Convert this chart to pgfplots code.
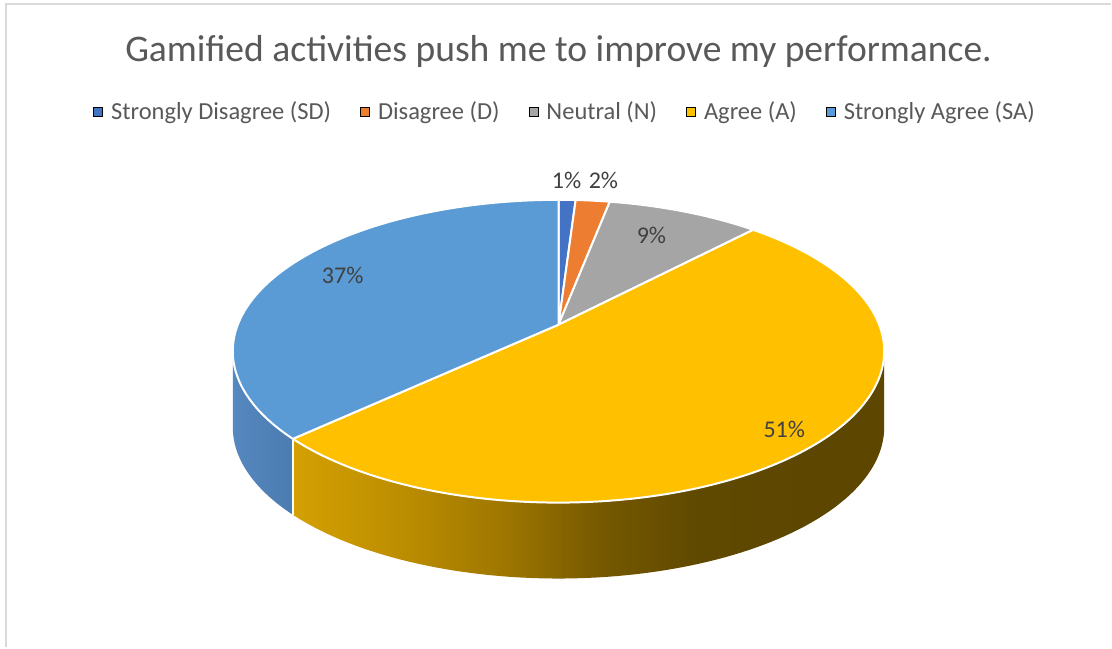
\documentclass[border=0pt]{standalone}
\usepackage{fontspec}
\setmainfont{Carlito}
\usepackage{pgfplots}
\usepackage{pgfplotstable}
\pgfplotsset{compat=1.18}
\definecolor{cSD}{HTML}{4472C4}
\definecolor{cD}{HTML}{ED7D31}
\definecolor{cN}{HTML}{A5A5A5}
\definecolor{cA}{HTML}{FFC000}
\definecolor{cSA}{HTML}{5B9BD5}
\definecolor{cTitle}{HTML}{595959}
\definecolor{cLbl}{HTML}{404040}
\definecolor{cBorder}{HTML}{D9D9D9}
\definecolor{sA1}{RGB}{212,160,2}
\definecolor{sA2}{RGB}{190,143,0}
\definecolor{sA3}{RGB}{160,120,0}
\definecolor{sA4}{RGB}{118,89,0}
\definecolor{sA5}{RGB}{95,72,0}
\definecolor{sA6}{RGB}{92,70,0}
\definecolor{sideSAL}{RGB}{86,136,192}
\definecolor{sideSAR}{RGB}{74,124,176}
\pgfdeclarehorizontalshading{sideAshade}{100bp}{color(0bp)=(sA1); color(25bp)=(sA1); color(33.4bp)=(sA2); color(42.5bp)=(sA3); color(50.9bp)=(sA4); color(59.4bp)=(sA5); color(75bp)=(sA6); color(100bp)=(sA6)}

\pgfplotstableread{
label value
SD 1
D 2
N 9
A 51
SA 37
}\piedata

\pgfplotstablegetelem{0}{value}\of\piedata \let\vSD\pgfplotsretval
\pgfplotstablegetelem{1}{value}\of\piedata \let\vD\pgfplotsretval
\pgfplotstablegetelem{2}{value}\of\piedata \let\vN\pgfplotsretval
\pgfplotstablegetelem{3}{value}\of\piedata \let\vA\pgfplotsretval
\pgfplotstablegetelem{4}{value}\of\piedata \let\vSA\pgfplotsretval

\pgfmathsetmacro{\bStart}{90}
\pgfmathsetmacro{\bSD}{\bStart-3.6*\vSD}
\pgfmathsetmacro{\bD}{\bSD-3.6*\vD}
\pgfmathsetmacro{\bN}{\bD-3.6*\vN}
\pgfmathsetmacro{\bA}{\bN-3.6*\vA}
\pgfmathsetmacro{\bSA}{\bA-3.6*\vSA}
% visible side: between silhouette angles
\pgfmathsetmacro{\silL}{-169.92}
\pgfmathsetmacro{\silR}{-10.08}
\pgfmathsetmacro{\sAlo}{max(\bA,\silL)}
\pgfmathsetmacro{\sAhi}{min(\bN,\silR)}
\pgfmathsetmacro{\sSAlo}{max(\bSA,\silL)}
\pgfmathsetmacro{\sSAhi}{min(\bA,\silR)}
\def\depth{76}

\begin{document}
\begin{tikzpicture}[
  declare function={
    PX(\t)=559+321*cos(\t)/(1+0.175*sin(\t));
    PY(\t)=323+146.9*sin(\t)/(1+0.175*sin(\t));
  }]
\begin{axis}[
  x=0.5pt, y=0.5pt,
  xmin=0, xmax=1112, ymin=0, ymax=648,
  hide axis, clip=false,
  title={Gamified activities push me to improve my performance.},
  title style={at={(0.5027,0.9027)}, anchor=center, yshift=0pt, font=\fontsize{18.8}{22}\selectfont, text=cTitle},
  legend columns=5,
  legend style={at={(0.509,0.827)}, anchor=center, draw=none, fill=none,
    font=\fontsize{12.25}{14}\selectfont, text=cTitle,
    /tikz/every odd column/.append style={column sep=2.5pt},
    /tikz/every even column/.append style={column sep=13pt},
    nodes={inner sep=1.5pt}},
  legend image code/.code={\fill[#1] (0pt,-2.3pt) rectangle (4.6pt,2.3pt);},
]
\fill[white] (axis cs:0,0) rectangle (axis cs:1112,648);
\draw[cBorder, line width=1pt] (axis cs:6,0) -- (axis cs:6,644) -- (axis cs:1112,644);

\addlegendimage{fill=cSD}
\addlegendentry{Strongly Disagree (SD)}
\addlegendimage{fill=cD}
\addlegendentry{Disagree (D)}
\addlegendimage{fill=cN}
\addlegendentry{Neutral (N)}
\addlegendimage{fill=cA}
\addlegendentry{Agree (A)}
\addlegendimage{fill=cSA}
\addlegendentry{Strongly Agree (SA)}

% side walls
\addplot[forget plot, draw=none, left color=sideSAL, right color=sideSAR,
  domain=0:3, samples=181, variable=\s]
  ({PX(\sSAlo+(\sSAhi-\sSAlo)*min(\s,1)-(\sSAhi-\sSAlo)*max(\s-2,0))},
   {PY(\sSAlo+(\sSAhi-\sSAlo)*min(\s,1)-(\sSAhi-\sSAlo)*max(\s-2,0))-\depth*min(max(\s-1,0),1)}) -- cycle;
\addplot[forget plot, draw=none, shading=sideAshade,
  domain=0:3, samples=241, variable=\s]
  ({PX(\sAlo+(\sAhi-\sAlo)*min(\s,1)-(\sAhi-\sAlo)*max(\s-2,0))},
   {PY(\sAlo+(\sAhi-\sAlo)*min(\s,1)-(\sAhi-\sAlo)*max(\s-2,0))-\depth*min(max(\s-1,0),1)}) -- cycle;
\addplot[forget plot, white, line width=1pt, domain=0:1, samples=2, variable=\s]
  ({PX(\bA)},{PY(\bA)-\depth*\s});

% top faces
\addplot[forget plot, fill=cSD, draw=white, line width=1pt, line join=round, domain=\bSD:\bStart, samples=10]
  ({PX(x)},{PY(x)}) -- (axis cs:559,323) -- cycle;
\addplot[forget plot, fill=cD, draw=white, line width=1pt, line join=round, domain=\bD:\bSD, samples=10]
  ({PX(x)},{PY(x)}) -- (axis cs:559,323) -- cycle;
\addplot[forget plot, fill=cN, draw=white, line width=1pt, line join=round, domain=\bN:\bD, samples=30]
  ({PX(x)},{PY(x)}) -- (axis cs:559,323) -- cycle;
\addplot[forget plot, fill=cA, draw=white, line width=1pt, line join=round, domain=\bA:\bN, samples=150]
  ({PX(x)},{PY(x)}) -- (axis cs:559,323) -- cycle;
\addplot[forget plot, fill=cSA, draw=white, line width=1pt, line join=round, domain=\bSA:\bA, samples=120]
  ({PX(x)},{PY(x)}) -- (axis cs:559,323) -- cycle;

% data labels
\addplot[forget plot, only marks, mark=none, nodes near coords, point meta=explicit symbolic,
  every node near coord/.style={anchor=center, font=\fontsize{12}{14}\selectfont, text=cLbl}]
  coordinates {(567,467)[1\%] (604,467)[2\%] (652,412)[9\%] (785,218)[51\%] (343,372)[37\%]};
\end{axis}
\end{tikzpicture}
\end{document}
